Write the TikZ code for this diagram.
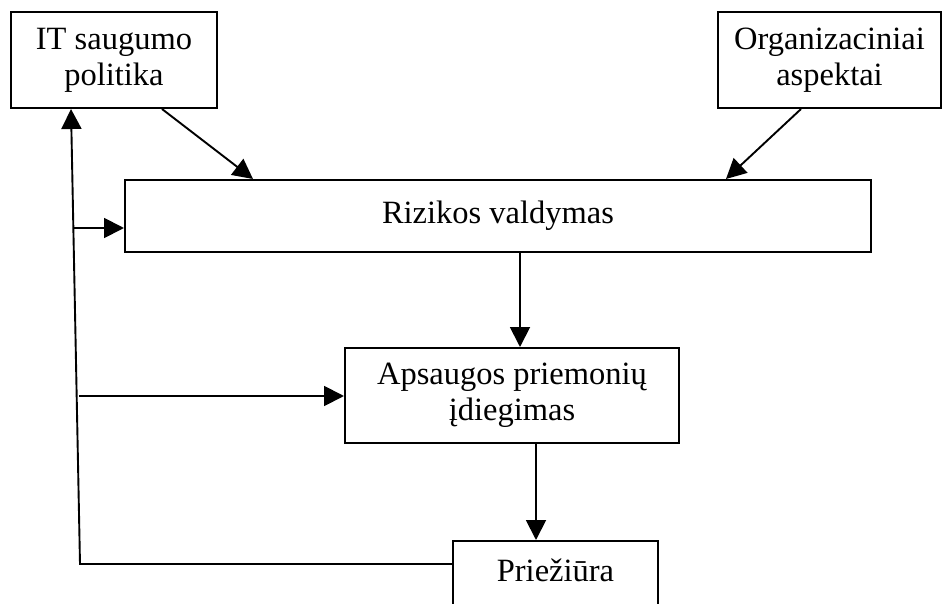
\documentclass[tikz,border=0pt]{standalone}
\usepackage{fontspec}
\setmainfont{Liberation Serif}
\usetikzlibrary{arrows.meta,calc}

\begin{document}
\begin{tikzpicture}[
  x=1pt, y=-1pt,
  every node/.style={font=\fontsize{32.5}{36}\selectfont},
  box/.style={draw=black, line width=2pt, rectangle, align=center, inner sep=0pt},
  link/.style={draw=black, line width=1.9pt},
  arr/.style={link, -{Triangle[length=20pt,width=20pt]}}
]
\useasboundingbox (0,0) rectangle (943,604);

% process boxes
\node[box, minimum width=206, minimum height=96] (it)   at (114,60)    {IT saugumo\\politika};
\node[box, minimum width=223, minimum height=96] (org)  at (829.5,60)  {Organizaciniai\\aspektai};
\node[box, minimum width=746, minimum height=72] (riz)  at (498,216)   {Rizikos valdymas};
\node[box, minimum width=334, minimum height=95] (aps)  at (512,395.5) {Apsaugos priemonių\\įdiegimas};
\node[box, anchor=north, minimum width=205, text height=22, text depth=38, inner ysep=18]
      (prie) at (555.5,540) {Priežiūra};

% flow between the boxes
\draw[arr] ($(it.south west)+(152,0)$)  -- ($(riz.north west)+(129,0)$);
\draw[arr] ($(org.south west)+(84,0)$)  -- ($(riz.north west)+(602,0)$);
\draw[arr] ($(riz.south west)+(396,0)$) -- ($(aps.north west)+(176,0)$);
\draw[arr] ($(aps.south west)+(192,0)$) -- ($(prie.north west)+(84,0)$);

% feedback loop on the left
\coordinate (fbcorner) at (80,564);
\coordinate (fbriz)    at (73,228);
\coordinate (fbaps)    at (79,396);
\draw[arr] (prie.west |- fbcorner) -- (fbcorner) -- ($(it.south west)+(61,0)$);
\draw[arr] (fbriz) -- (riz.west |- fbriz);
\draw[arr] (fbaps) -- (aps.west |- fbaps);
\end{tikzpicture}
\end{document}
